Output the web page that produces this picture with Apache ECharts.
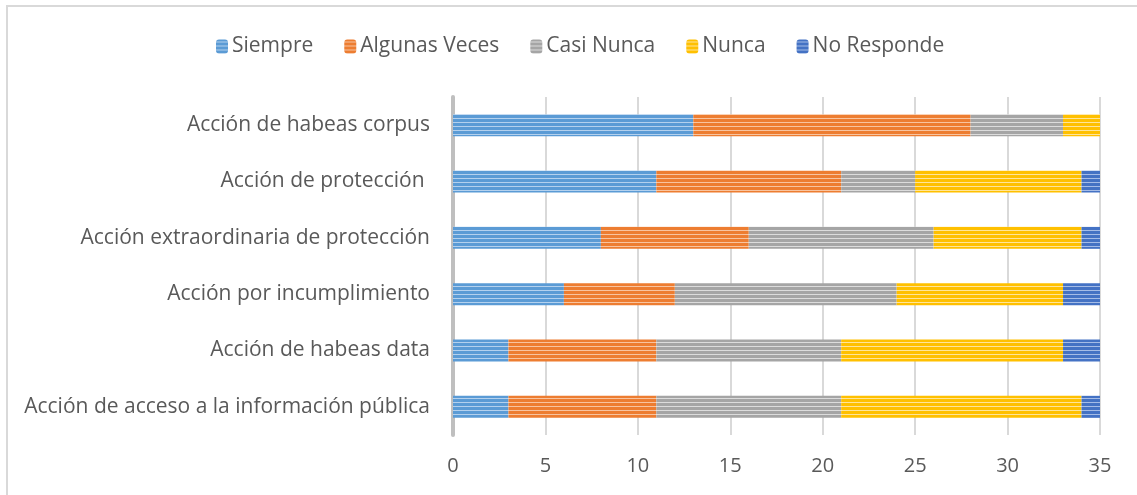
<!DOCTYPE html>
<html>
<head>
<meta charset="utf-8">
<script src="https://cdn.jsdelivr.net/npm/echarts@6/dist/echarts.min.js"></script>
<style>
  html, body { margin: 0; padding: 0; background: #fff; }
  #container { width: 1137px; height: 495px; }
</style>
</head>
<body>
<div id="container"></div>
<script>
// data, bottom to top
var categories = [
  'Acción de acceso a la información pública',
  'Acción de habeas data',
  'Acción por incumplimiento',
  'Acción extraordinaria de protección',
  'Acción de protección ',
  'Acción de habeas corpus'
];
var seriesNames = ['Siempre', 'Algunas Veces', 'Casi Nunca', 'Nunca', 'No Responde'];
var siempre = [3, 3, 6, 8, 11, 13];
var algunasVeces = [8, 8, 6, 8, 10, 15];
var casiNunca = [10, 10, 12, 10, 4, 5];
var nunca = [13, 12, 9, 8, 9, 2];
var noResponde = [1, 2, 2, 1, 1, 0];
var xTicks = [0, 5, 10, 15, 20, 25, 30, 35];

var baseColors = ['#5B9BD5', '#ED7D31', '#A5A5A5', '#FFC000', '#4472C4'];
var lightColors = ['#B4D1EE', '#F8C4A0', '#DCDCDC', '#FFE59A', '#A5BCE6'];

// horizontal stripe fill like the office pattern
function stripes(base, light) {
  var c = document.createElement('canvas');
  c.width = 4; c.height = 4;
  var g = c.getContext('2d');
  g.fillStyle = base; g.fillRect(0, 0, 4, 4);
  g.fillStyle = light; g.fillRect(0, 2, 4, 1);
  return { image: c, repeat: 'repeat' };
}

var dom = document.getElementById('container');
var myChart = echarts.init(dom, null, { renderer: 'canvas' });

var values = [siempre, algunasVeces, casiNunca, nunca, noResponde];
var series = seriesNames.map(function (name, i) {
  return {
    name: name,
    type: 'bar',
    stack: 'total',
    barWidth: 22,
    itemStyle: { color: stripes(baseColors[i], lightColors[i]) },
    data: values[i]
  };
});

var option = {
  animation: false,
  textStyle: { fontFamily: 'Open Sans' },
  graphic: [{
    type: 'rect',
    shape: { x: 7, y: 6, width: 1140, height: 500 },
    style: { fill: 'none', stroke: '#d9d9d9', lineWidth: 2 },
    silent: true
  }],
  legend: {
    top: 31,
    left: 211,
    itemWidth: 12,
    itemHeight: 14,
    itemGap: 31,
    textStyle: { fontSize: 21, color: '#595959', padding: [0, 0, 0, -1] },
    data: seriesNames
  },
  grid: { left: 453, right: 37, top: 97, bottom: 60 },
  xAxis: {
    type: 'value',
    min: 0,
    max: 35,
    interval: 5,
    axisLine: { show: false },
    axisTick: { show: false },
    axisLabel: {
      fontSize: 20, color: '#595959', margin: 21,
      formatter: function (v) { return xTicks.indexOf(v) >= 0 ? String(v) : ''; }
    },
    splitLine: { lineStyle: { color: '#d9d9d9', width: 2 } }
  },
  yAxis: {
    type: 'category',
    data: categories,
    axisLine: { lineStyle: { color: '#bfbfbf', width: 4 } },
    axisTick: { show: false },
    axisLabel: { fontSize: 21, color: '#595959', margin: 23 }
  },
  series: series
};

myChart.setOption(option);
window.addEventListener('resize', myChart.resize);
</script>
</body>
</html>
